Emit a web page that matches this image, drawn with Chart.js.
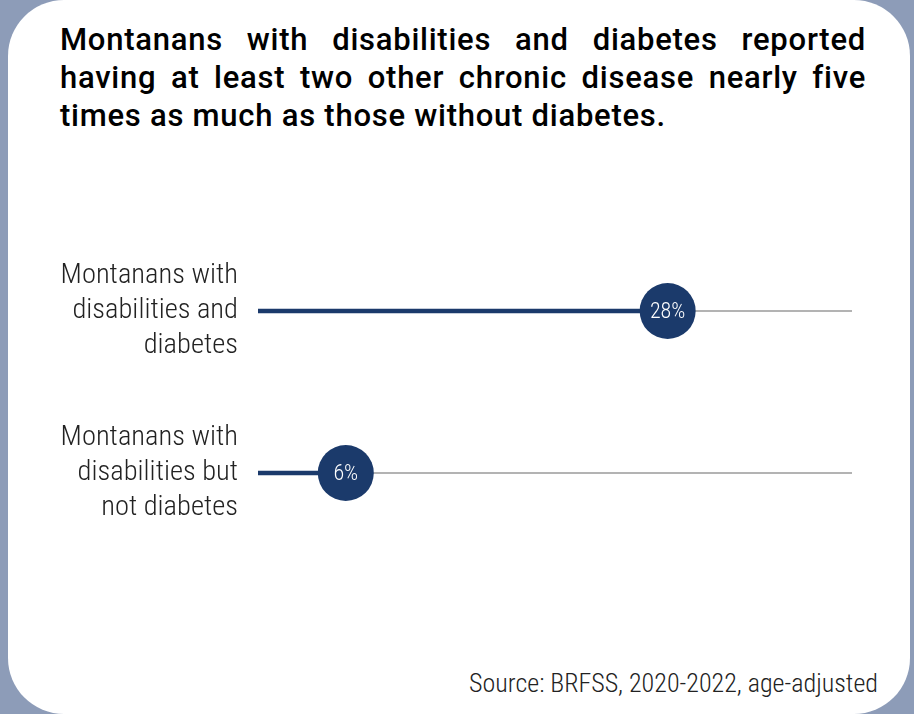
<!DOCTYPE html>
<html>
<head>
<meta charset="utf-8">
<script src="https://cdn.jsdelivr.net/npm/chart.js@4"></script>
<style>
  html, body { margin: 0; padding: 0; }
  body { width: 914px; height: 714px; background: #8d9cb8; position: relative; overflow: hidden; }
  #card { position: absolute; left: 8px; top: 0; width: 902px; height: 714px; background: #fff; border-radius: 56px; }
  #title { position: absolute; left: 60px; top: 21px; width: 806px; margin: 0;
    font-family: Roboto, "Noto Sans", sans-serif; font-weight: 500; font-size: 31px; line-height: 38px;
    letter-spacing: 0.75px; text-align: justify; color: #000; }
  #source { position: absolute; right: 36px; top: 668px; margin: 0;
    font-family: "Roboto Condensed", "Liberation Sans Narrow", "DejaVu Sans Condensed", Roboto, sans-serif;
    font-weight: 300; font-size: 26px; color: #222; }
  #wrap { position: absolute; left: 0; top: 202px; width: 914px; height: 380px; }
</style>
</head>
<body>
<div id="card"></div>
<h1 id="title">Montanans with disabilities and diabetes reported having at least two other chronic disease nearly five times as much as those without diabetes.</h1>
<div id="wrap"><canvas id="chart"></canvas></div>
<p id="source">Source: BRFSS, 2020-2022, age-adjusted</p>
<script>
const categories = [
  ['Montanans with', 'disabilities and', 'diabetes'],
  ['Montanans with', 'disabilities but', 'not diabetes']
];
const percents = [28, 6];
const axisMax = 40.6;

const condensed = '"Roboto Condensed", "Liberation Sans Narrow", "DejaVu Sans Condensed", Roboto, sans-serif';
const navy = '#1b3a6b';

// gray track behind each row
const trackLines = {
  id: 'trackLines',
  beforeDatasetsDraw(chart) {
    const ctx = chart.ctx, area = chart.chartArea, y = chart.scales.y;
    ctx.save();
    ctx.strokeStyle = '#b3b3b3';
    ctx.lineWidth = 2;
    categories.forEach((c, i) => {
      const py = y.getPixelForValue(i);
      ctx.beginPath();
      ctx.moveTo(area.left, py);
      ctx.lineTo(area.right, py);
      ctx.stroke();
    });
    ctx.restore();
  }
};

// percent text inside the dots
const dotLabels = {
  id: 'dotLabels',
  afterDatasetsDraw(chart) {
    const ctx = chart.ctx;
    const meta = chart.getDatasetMeta(1);
    ctx.save();
    ctx.fillStyle = '#fff';
    ctx.font = '300 22px ' + condensed;
    ctx.textAlign = 'center';
    ctx.textBaseline = 'middle';
    meta.data.forEach((pt, i) => {
      ctx.fillText(percents[i] + '%', pt.x, pt.y + 1);
    });
    ctx.restore();
  }
};

new Chart(document.getElementById('chart').getContext('2d'), {
  type: 'bar',
  data: {
    labels: categories,
    datasets: [{
      type: 'bar',
      data: percents,
      backgroundColor: navy,
      barThickness: 4,
      order: 2
    }, {
      type: 'line',
      data: percents,
      showLine: false,
      pointRadius: 28,
      pointHoverRadius: 28,
      pointBackgroundColor: navy,
      pointBorderWidth: 0,
      clip: false,
      order: 1
    }]
  },
  options: {
    indexAxis: 'y',
    responsive: true,
    maintainAspectRatio: false,
    animation: false,
    layout: { padding: { left: 0, right: 62, top: 0, bottom: 0 } },
    plugins: { legend: { display: false }, tooltip: { enabled: false } },
    scales: {
      x: { min: 0, max: axisMax, display: false },
      y: {
        grid: { display: false, drawTicks: false },
        border: { display: false },
        ticks: {
          padding: 20,
          color: '#222',
          font: { family: condensed, size: 28.5, weight: 300, lineHeight: 1.22 }
        },
        afterFit(scale) {
          scale.width = 258;
          scale.paddingTop = 0;
          scale.paddingBottom = 0;
        }
      }
    }
  },
  plugins: [trackLines, dotLabels]
});
</script>
</body>
</html>
